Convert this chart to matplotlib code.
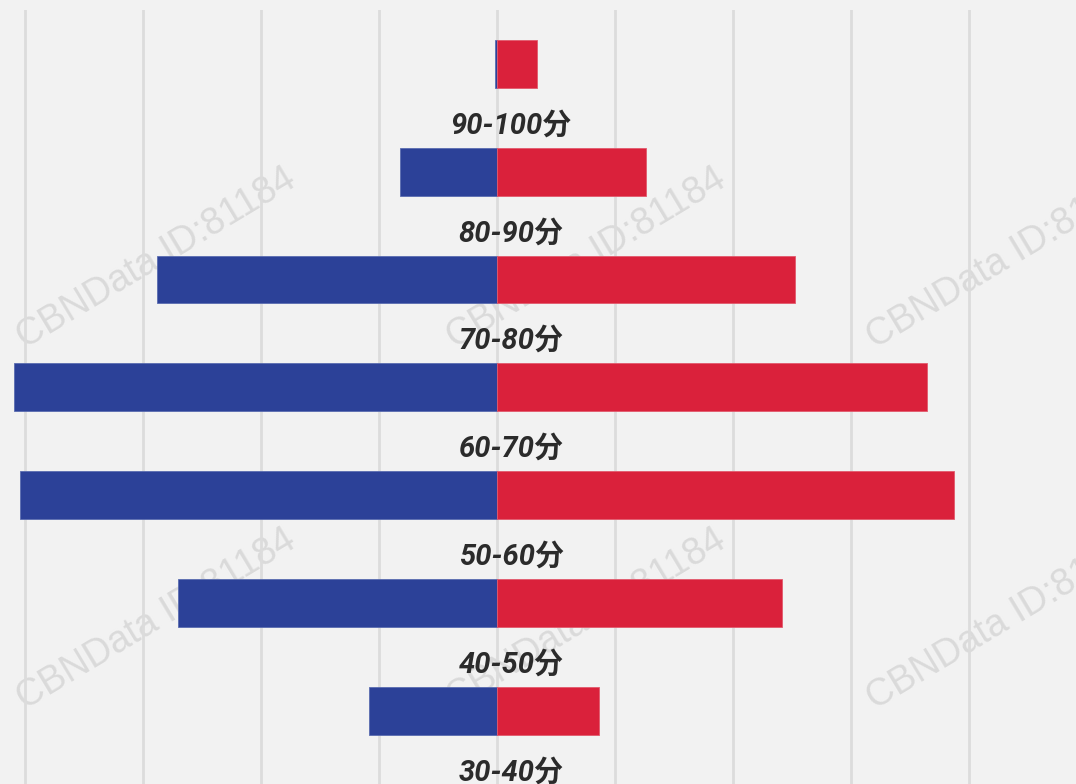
import matplotlib.pyplot as plt

plt.rcParams['font.family'] = ['Roboto', 'Noto Sans CJK SC', 'DejaVu Sans']

categories = ['90-100分', '80-90分', '70-80分', '60-70分', '50-60分', '40-50分', '30-40分']
left_vals = [0.1, 4.1, 14.4, 20.45, 20.2, 13.5, 5.4]
right_vals = [1.7, 6.3, 12.6, 18.2, 19.35, 12.05, 4.3]

blue = '#2c4198'
red = '#da213b'
bg = '#f2f2f2'

fig = plt.figure(figsize=(10.76, 7.84), dpi=100, facecolor=bg)
ax = fig.add_axes([0, 0, 1, 774 / 784])
ax.set_facecolor(bg)

pos = list(range(len(categories)))
ax.barh(pos, [-v for v in left_vals], height=0.445, color=blue, edgecolor='#5a6cb0', linewidth=0.6, zorder=2)
ax.barh(pos, right_vals, height=0.445, color=red, edgecolor='#e25a6d', linewidth=0.6, zorder=2)

for x in range(-20, 25, 5):
    ax.axvline(x, color='#dcdcdc', lw=2, zorder=1)

for i, lab in enumerate(categories):
    ax.text(0.6, i + 0.57, lab, ha='center', va='center', fontsize=21,
            fontweight='bold', fontstyle='italic', color='#2b2b2b', zorder=3)

# watermarks (behind the bars)
for wx in [0.145, 0.545, 0.935]:
    for wy in [0.67, 0.21]:
        ax.text(wx, wy, 'CBNData ID:81184', rotation=31, ha='center', va='center',
                fontsize=27, color='#dadada', family='Liberation Sans',
                transform=fig.transFigure, zorder=0.5, clip_on=False)

ax.set_xlim(-497 / 23.62, 579 / 23.62)
ax.set_ylim(6.68, -0.5)
ax.axis('off')

plt.savefig('out.png', dpi=100, facecolor=bg)
